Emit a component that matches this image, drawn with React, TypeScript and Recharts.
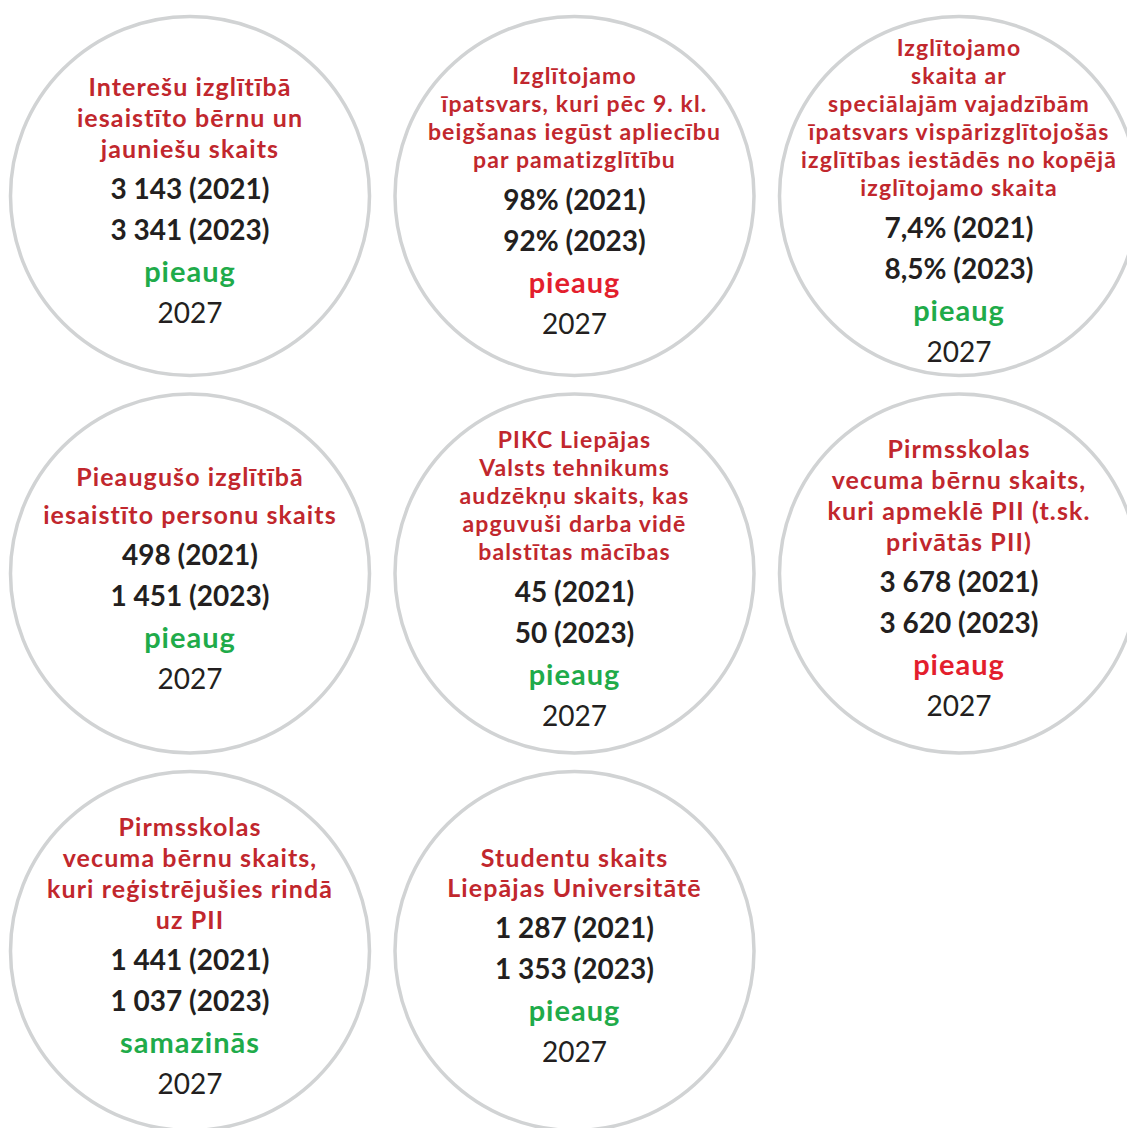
import React from 'react';
import { ScatterChart, Scatter, XAxis, YAxis } from 'recharts';

// indicator titles, one entry per circle (already broken into lines)
const titles: string[][] = [
  ['Interešu izglītībā', 'iesaistīto bērnu un', 'jauniešu skaits'],
  ['Izglītojamo', 'īpatsvars, kuri pēc 9. kl.', 'beigšanas iegūst apliecību', 'par pamatizglītību'],
  [
    'Izglītojamo',
    'skaita ar',
    'speciālajām vajadzībām',
    'īpatsvars vispārizglītojošās',
    'izglītības iestādēs no kopējā',
    'izglītojamo skaita',
  ],
  ['Pieaugušo izglītībā', 'iesaistīto personu skaits'],
  ['PIKC Liepājas', 'Valsts tehnikums', 'audzēkņu skaits, kas', 'apguvuši darba vidē', 'balstītas mācības'],
  ['Pirmsskolas', 'vecuma bērnu skaits,', 'kuri apmeklē PII (t.sk.', 'privātās PII)'],
  ['Pirmsskolas', 'vecuma bērnu skaits,', 'kuri reģistrējušies rindā', 'uz PII'],
  ['Studentu skaits', 'Liepājas Universitātē'],
];

const values2021 = ['3 143', '98%', '7,4%', '498', '45', '3 678', '1 441', '1 287'];
const values2023 = ['3 341', '92%', '8,5%', '1 451', '50', '3 620', '1 037', '1 353'];
const trends = ['pieaug', 'pieaug', 'pieaug', 'pieaug', 'pieaug', 'pieaug', 'samazinās', 'pieaug'];
const trendPositive = [true, false, true, true, true, false, true, true];
const targetYears = ['2027', '2027', '2027', '2027', '2027', '2027', '2027', '2027'];

const gridCol = [0, 1, 2, 0, 1, 2, 0, 1];
const gridRow = [0, 0, 0, 1, 1, 1, 2, 2];

// typography per circle (style only)
const titleSize = [25, 23, 23, 25, 23, 25, 25, 25];
const titleLead = [31, 28, 28, 38, 28, 31, 31, 30];

const RED = '#c1272d';
const BRIGHT_RED = '#e31e2d';
const GREEN = '#1fab4a';
const DARK = '#231f20';
const RING = '#d1d3d4';
const FONT = 'Lato, "Noto Sans", sans-serif';

const data = titles.map((t, i) => ({
  col: gridCol[i],
  row: gridRow[i],
  idx: i,
  title: t,
  v1: `${values2021[i]} (2021)`,
  v2: `${values2023[i]} (2023)`,
  trend: trends[i],
  good: trendPositive[i],
  year: targetYears[i],
}));

const Bubble = (props: any) => {
  const { cx, cy, payload } = props;
  if (cx == null || cy == null) return null;
  const i = payload.idx;
  const lh = titleLead[i];
  const n = payload.title.length;
  const blockH = (n - 1) * lh + 164;
  const top = cy + 4 - blockH / 2;
  const afterTitle = top + (n - 1) * lh;
  return (
    <g>
      <circle cx={cx} cy={cy} r={179.5} fill="#fff" stroke={RING} strokeWidth={3.5} />
      {payload.title.map((line: string, k: number) => (
        <text
          key={k}
          x={cx}
          y={top + k * lh}
          dy="0.36em"
          textAnchor="middle"
          fontFamily={FONT}
          fontWeight={700}
          fontSize={titleSize[i]}
          letterSpacing={1.1}
          fill={RED}
        >
          {line}
        </text>
      ))}
      <text x={cx} y={afterTitle + 40} dy="0.36em" textAnchor="middle" fontFamily={FONT} fontWeight={700} fontSize={28} fill={DARK}>
        {payload.v1}
      </text>
      <text x={cx} y={afterTitle + 81} dy="0.36em" textAnchor="middle" fontFamily={FONT} fontWeight={700} fontSize={28} fill={DARK}>
        {payload.v2}
      </text>
      <text
        x={cx}
        y={afterTitle + 123}
        dy="0.36em"
        textAnchor="middle"
        fontFamily={FONT}
        fontWeight={700}
        fontSize={29}
        letterSpacing={1}
        fill={payload.good ? GREEN : BRIGHT_RED}
      >
        {payload.trend}
      </text>
      <text x={cx} y={afterTitle + 164} dy="0.36em" textAnchor="middle" fontFamily={FONT} fontWeight={400} fontSize={28} fill={DARK}>
        {payload.year}
      </text>
    </g>
  );
};

export default function App() {
  return (
    <div style={{ width: 1127, height: 1120, background: '#fff' }}>
      <ScatterChart width={1127} height={1120} margin={{ top: 188, right: 176, bottom: 177, left: 182 }}>
        <XAxis type="number" dataKey="col" domain={[0, 2]} hide />
        <YAxis type="number" dataKey="row" domain={[0, 2]} reversed hide />
        <Scatter data={data} shape={(p: any) => <Bubble {...p} />} isAnimationActive={false} />
      </ScatterChart>
    </div>
  );
}
